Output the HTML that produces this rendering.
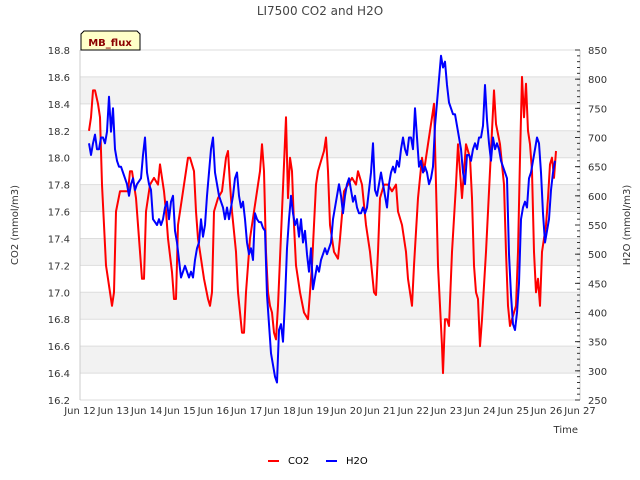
<!DOCTYPE html>
<html><head><meta charset="utf-8"><style>
body{margin:0;background:#fff;}
svg{display:block;font-family:"DejaVu Sans","Liberation Sans",sans-serif;}
</style></head><body>
<svg id="chart" width="640" height="480">
<text x="320" y="15" text-anchor="middle" font-size="12" fill="#444">LI7500 CO2 and H2O</text>
<g id="bands"></g><g id="grid"></g>
<g id="axes"></g>
<g id="series"></g>
<g>
<path d="M84,31 L137,31 L140,34 L140,50 L81,50 L81,34 Z" fill="#ffffc8" stroke="#000" stroke-width="1"/>
<text x="110" y="46" text-anchor="middle" font-size="10" font-weight="bold" fill="#8b0000">MB_flux</text>
</g>
<text transform="translate(18,225) rotate(-90)" text-anchor="middle" font-size="10" fill="#333">CO2 (mmol/m3)</text>
<text transform="translate(630,225) rotate(-90)" text-anchor="middle" font-size="10" fill="#333">H2O (mmol/m3)</text>
<text x="578" y="433" text-anchor="end" font-size="10" fill="#333">Time</text>
<g><line x1="268" y1="461" x2="279" y2="461" stroke="#f00" stroke-width="2"/><text x="288" y="464" font-size="10" fill="#000">CO2</text></g>
<g><line x1="326" y1="461" x2="337" y2="461" stroke="#00f" stroke-width="2"/><text x="346" y="464" font-size="10" fill="#000">H2O</text></g>
</svg>
<script>
const xTickLabels=["Jun 12","Jun 13","Jun 14","Jun 15","Jun 16","Jun 17","Jun 18","Jun 19","Jun 20","Jun 21","Jun 22","Jun 23","Jun 24","Jun 25","Jun 26","Jun 27"];
const leftTicks=[16.2,16.4,16.6,16.8,17.0,17.2,17.4,17.6,17.8,18.0,18.2,18.4,18.6,18.8];
const rightTicks=[250,300,350,400,450,500,550,600,650,700,750,800,850];
const co2Days=[89,91,93,95,98,100,102,104,106,108,110,112,114,116,120,124,128,130,132,134,136,138,140,142,144,146,150,154,158,160,162,164,166,168,172,174,176,178,182,186,188,190,194,196,198,200,204,208,210,212,214,218,222,226,228,230,232,236,238,240,242,244,246,250,254,256,260,262,264,266,268,270,272,274,276,278,282,286,288,290,292,294,296,300,304,308,312,316,318,320,324,326,328,330,334,338,340,344,348,352,356,358,362,366,370,374,376,378,380,384,388,392,396,398,402,406,408,410,412,414,418,422,424,428,432,434,436,438,440,442,443,445,447,449,452,456,458,460,462,466,470,472,474,476,478,480,482,486,490,492,494,496,500,504,506,508,510,512,516,518,520,522,524,526,528,530,532,534,536,538,540,542,544,546,548,550,552,554,556].map(x=>(x-80)/33.333);
const co2Values=[18.2,18.3,18.5,18.5,18.4,18.3,17.8,17.5,17.2,17.1,17.0,16.9,17.0,17.6,17.75,17.75,17.75,17.9,17.9,17.8,17.7,17.5,17.3,17.1,17.1,17.6,17.8,17.85,17.8,17.95,17.85,17.75,17.6,17.4,17.15,16.95,16.95,17.5,17.7,17.9,18.0,18.0,17.9,17.6,17.4,17.3,17.1,16.95,16.9,17.0,17.6,17.7,17.75,18.0,18.05,17.8,17.6,17.3,17.0,16.85,16.7,16.7,17.0,17.4,17.6,17.7,17.9,18.1,17.9,17.3,17.0,16.9,16.85,16.7,16.65,16.9,17.6,18.3,17.7,18.0,17.9,17.5,17.2,17.0,16.85,16.8,17.2,17.8,17.9,17.95,18.05,18.15,17.9,17.5,17.3,17.25,17.4,17.75,17.8,17.85,17.8,17.9,17.8,17.5,17.3,17.0,16.98,17.3,17.7,17.8,17.8,17.75,17.8,17.6,17.5,17.3,17.1,17.0,16.9,17.2,17.7,18.0,17.9,18.1,18.3,18.4,17.8,17.2,16.9,16.6,16.4,16.8,16.8,16.75,17.3,17.8,18.1,17.9,17.7,18.1,18.0,17.7,17.2,17.0,16.95,16.6,16.8,17.3,17.9,18.2,18.5,18.25,18.1,17.8,17.3,16.9,16.75,16.8,16.9,17.3,18.0,18.6,18.3,18.55,18.2,18.1,17.9,17.3,17.0,17.1,16.9,17.3,17.4,17.5,17.7,17.95,18.0,17.85,18.05];
const h2oDays=[];for(let x=89;x<=555;x+=2)h2oDays.push((x-80)/33.333);
const h2oValues=[690,670,690,705,680,680,700,700,690,710,770,710,750,680,660,650,650,640,630,620,600,620,630,610,620,625,630,670,700,640,620,610,560,555,550,560,550,560,580,590,560,590,600,540,520,490,460,470,480,470,460,470,460,490,510,520,560,530,550,600,640,680,700,640,620,600,590,580,560,580,560,580,600,630,640,600,580,590,560,520,500,510,490,570,560,555,555,545,540,430,380,330,310,290,280,370,380,350,420,510,560,600,570,550,560,530,560,520,540,500,470,510,440,460,480,470,490,500,510,500,510,520,560,580,600,620,600,570,600,620,630,610,590,600,580,570,570,580,570,580,610,640,690,610,600,620,640,620,600,580,620,640,650,640,660,650,680,700,680,670,700,700,680,750,700,650,660,640,650,640,620,630,650,720,760,800,840,820,830,790,760,750,740,740,720,700,680,640,620,670,670,660,680,690,680,700,700,720,790,730,690,660,700,680,690,680,660,650,640,630,500,430,380,370,400,450,560,580,590,580,630,640,660,680,700,690,640,570,520,540,560,610,640,660,670];

const NS="http://www.w3.org/2000/svg";
const X0=80,X1=580,Y0=50,Y1=400;
const xs=d=>X0+d*(X1-X0)/15;
const yL=v=>Y1-(v-16.2)*(Y1-Y0)/2.6;
const yR=v=>Y1-(v-250)*(Y1-Y0)/600;
function mk(tag,attrs,parent){const e=document.createElementNS(NS,tag);for(const k in attrs)e.setAttribute(k,attrs[k]);parent.appendChild(e);return e;}
const bands=document.getElementById('bands'),grid=document.getElementById('grid'),axes=document.getElementById('axes'),series=document.getElementById('series');
for(let i=0;i<leftTicks.length-1;i++){
  if(i%2===1){const r=mk('rect',{x:X0,y:yL(leftTicks[i+1]),width:X1-X0,height:yL(leftTicks[i])-yL(leftTicks[i+1]),fill:'#f2f2f2'},bands);
  
  }
}
leftTicks.forEach(v=>{
  const l=mk('line',{x1:X0,x2:X1,y1:yL(v),y2:yL(v),stroke:'#ddd','stroke-width':1},grid);
  
  
  const t=mk('text',{x:X0-10,y:yL(v)+4,'text-anchor':'end','font-size':10,fill:'#333'},axes);
  t.textContent=v.toFixed(1);
  
  
});
mk('line',{x1:X0,x2:X0,y1:Y0,y2:Y1,stroke:'#ccc'},axes);
mk('line',{x1:X1,x2:X1,y1:Y0,y2:Y1,stroke:'#ccc'},axes);
for(let v=250;v<=850;v+=10){mk('line',{x1:X1-3,x2:X1,y1:yR(v),y2:yR(v),stroke:'#333'},axes);}
rightTicks.forEach(v=>{
  mk('line',{x1:X1-5,x2:X1,y1:yR(v),y2:yR(v),stroke:'#333'},axes);
  const t=mk('text',{x:X1+8,y:yR(v)+4,'font-size':10,fill:'#333'},axes);
  t.textContent=v;
  
  
});
xTickLabels.forEach((s,i)=>{
  const t=mk('text',{x:xs(i),y:414,'text-anchor':'middle','font-size':10,fill:'#333'},axes);
  t.textContent=s;
  
  
});
const pc=mk('path',{d:co2Days.map((d,i)=>(i?'L':'M')+xs(d).toFixed(1)+','+yL(co2Values[i]).toFixed(1)).join(''),fill:'none',stroke:'#f00','stroke-width':2,'stroke-linejoin':'round'},series);


const ph=mk('path',{d:h2oDays.map((d,i)=>(i?'L':'M')+xs(d).toFixed(1)+','+yR(h2oValues[i]).toFixed(1)).join(''),fill:'none',stroke:'#00f','stroke-width':2,'stroke-linejoin':'round'},series);


</script>
</body></html>
